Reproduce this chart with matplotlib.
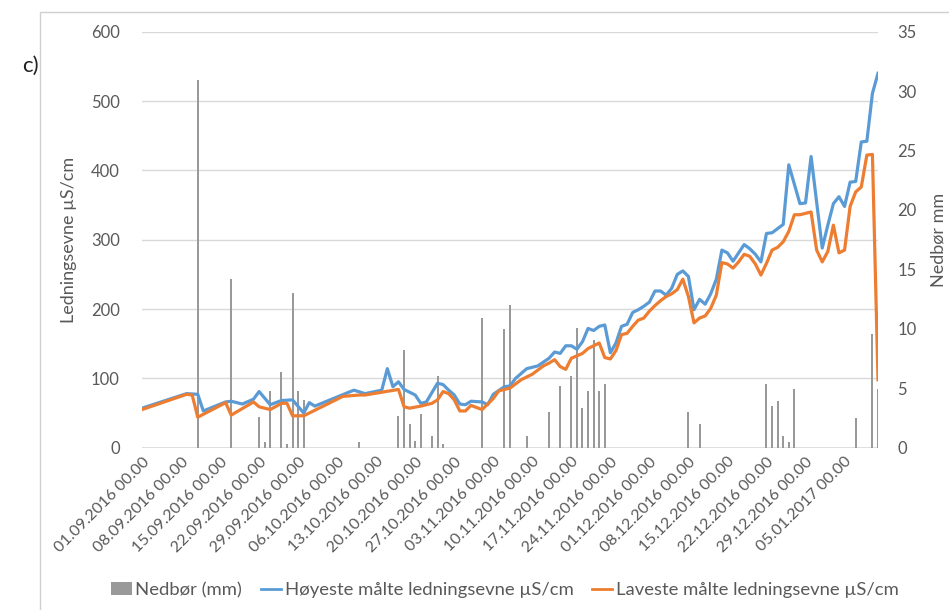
import matplotlib
matplotlib.use("Agg")
import matplotlib.pyplot as plt
from matplotlib.patches import Patch, Rectangle
from matplotlib.lines import Line2D

plt.rcParams['font.family'] = ['Lato', 'DejaVu Sans']

# ---- data (day offset from 01.09.2016) ----
rain_days = [10, 16, 21, 22, 23, 25, 26, 27, 28, 29, 39, 46, 47, 48, 49, 50, 52, 53, 54,
             61, 65, 66, 69, 73, 75, 77, 78, 79, 80, 81, 82, 83, 98, 100,
             112, 113, 114, 115, 116, 117, 128, 131, 132]
rain_mm = [30.9, 14.2, 2.6, 0.5, 4.8, 6.4, 0.3, 13.0, 4.8, 4.0, 0.5, 2.7, 8.2, 2.0, 0.6, 2.8, 1.0, 6.0, 0.3,
           10.9, 10.0, 12.0, 1.0, 3.0, 5.2, 6.0, 10.1, 3.3, 4.8, 9.1, 4.8, 5.4, 3.0, 2.0,
           5.4, 3.5, 3.9, 1.0, 0.5, 4.9, 2.5, 9.6, 4.9]

high_days = [0, 8, 10, 11, 15, 16, 18, 20, 21, 23, 25, 27, 29, 30, 31, 38, 40, 43, 44, 45, 46, 47, 48,
             49, 50, 51, 53, 54, 55, 56, 57, 58, 59, 61, 62, 63, 65, 66, 67, 69, 71, 73, 74, 75, 76,
             77, 78, 79, 80, 81, 82, 83, 84, 85, 86, 87, 88, 89, 90, 91, 92, 93, 94, 95, 96, 97, 98,
             99, 100, 101, 102, 103, 104, 105, 106, 107, 108, 109, 110, 111, 112, 113, 114, 115, 116,
             118, 119, 120, 122, 123, 124, 125, 126, 127, 128, 129, 130, 131, 132]
high_val = [57, 78, 77, 53, 66, 67, 63, 70, 81, 62, 68, 69, 50, 65, 60, 83, 78, 83, 114, 88, 95, 84, 80,
            76, 64, 66, 93, 91, 83, 76, 63, 62, 67, 66, 62, 77, 88, 89, 100, 114, 118, 129, 138, 136, 147,
            147, 142, 153, 172, 169, 175, 177, 137, 151, 175, 178, 195, 199, 204, 210, 226, 226, 220, 230, 250, 255, 247,
            199, 214, 207, 222, 243, 285, 281, 269, 281, 293, 287, 279, 268, 309, 310, 316, 322, 408,
            352, 353, 420, 288, 321, 352, 362, 348, 383, 384, 441, 442, 511, 540]

low_days = [0, 8, 9, 10, 15, 16, 20, 21, 23, 25, 26, 27, 29, 33, 36, 39, 40, 46, 47, 48, 50, 52, 53, 54,
            55, 56, 57, 58, 59, 60, 61, 63, 64, 65, 66, 68, 70, 72, 73, 74, 75, 76, 77, 79, 80, 82, 83,
            84, 85, 86, 87, 88, 89, 90, 91, 92, 93, 94, 95, 96, 97, 98, 99, 100, 101, 102, 103, 104, 105,
            106, 107, 108, 109, 110, 111, 112, 113, 114, 115, 116, 117, 118, 120, 121, 122, 123, 124, 125,
            126, 127, 128, 129, 130, 131, 132]
low_val = [55, 77, 76, 44, 65, 47, 66, 59, 55, 64, 64, 46, 46, 62, 74, 76, 76, 84, 59, 57, 60, 64, 69, 81,
           78, 69, 53, 53, 61, 58, 55, 71, 82, 84, 86, 98, 106, 118, 122, 127, 117, 113, 129, 136, 143, 151, 130,
           128, 140, 163, 165, 175, 184, 187, 197, 205, 212, 218, 222, 228, 243, 218, 180, 187, 190, 201, 220, 267, 265,
           259, 268, 279, 276, 265, 249, 266, 285, 289, 297, 312, 336, 336, 340, 285, 268, 283, 321, 281,
           285, 348, 369, 376, 422, 423, 98]

tick_days = list(range(0, 127, 7))
tick_labels = ["01.09.2016 00.00", "08.09.2016 00.00", "15.09.2016 00.00", "22.09.2016 00.00",
               "29.09.2016 00.00", "06.10.2016 00.00", "13.10.2016 00.00", "20.10.2016 00.00",
               "27.10.2016 00.00", "03.11.2016 00.00", "10.11.2016 00.00", "17.11.2016 00.00",
               "24.11.2016 00.00", "01.12.2016 00.00", "08.12.2016 00.00", "15.12.2016 00.00",
               "22.12.2016 00.00", "29.12.2016 00.00", "05.01.2017 00.00"]

label_high = "Høyeste målte ledningsevne µS/cm"
label_low = "Laveste målte ledningsevne µS/cm"
label_rain = "Nedbør (mm)"

# ---- styling ----
TXT = "#595959"
GRID = "#d9d9d9"
BLUE = "#5b9bd5"
ORANGE = "#ed7d31"
BARC = "#999999"

fig = plt.figure(figsize=(9.49, 6.1), dpi=100)
fig.patch.set_facecolor("white")

# chart-area border (left and top)
fig.add_artist(Rectangle((40/949, -0.1), 1.2, 1 - 12/610 + 0.1, transform=fig.transFigure,
                         fill=False, edgecolor="#d0d0d0", linewidth=1.0))

ax = fig.add_axes([142/949, 1 - 447.7/610, (878 - 142)/949, (447.7 - 31.7)/610])
ax2 = ax.twinx()

# precipitation bars on secondary axis
ax2.bar(rain_days, rain_mm, width=0.36, color=BARC, zorder=1)
ax2.set_ylim(0, 35)
ax2.set_yticks(range(0, 36, 5))

# lines on primary axis
ax.set_zorder(ax2.get_zorder() + 1)
ax.patch.set_visible(False)
ax.plot(high_days, high_val, color=BLUE, lw=2.3, zorder=3, solid_joinstyle='round')
ax.plot(low_days, low_val, color=ORANGE, lw=2.3, zorder=3, solid_joinstyle='round')
ax.set_ylim(0, 600)
ax.set_yticks(range(0, 601, 100))
ax.set_xlim(0, 132)

# gridlines drawn on bar axis (behind bars)
for v in range(100, 601, 100):
    ax2.axhline(v * 35 / 600, color=GRID, lw=1.0, zorder=0)
ax2.axhline(0, color=GRID, lw=1.2, zorder=0)

for a in (ax, ax2):
    for s in a.spines.values():
        s.set_visible(False)

ax.set_xticks(tick_days)
ax.set_xticklabels(tick_labels, rotation=45, ha='right', va='top', rotation_mode='anchor',
                   fontsize=11.5, color=TXT)
ax.tick_params(axis='x', length=0, pad=5)
ax.tick_params(axis='y', length=0, pad=16, labelsize=12, labelcolor=TXT)
ax2.tick_params(axis='y', length=0, pad=14, labelsize=12, labelcolor=TXT)

ax.set_ylabel("Ledningsevne µS/cm", fontsize=13, color=TXT, labelpad=10)
ax2.set_ylabel("Nedbør mm", fontsize=13, color=TXT, labelpad=10)

fig.text(22/949, 1 - 66/610, "c)", fontsize=16, color="#222222", va='center', ha='left')

handles = [Patch(facecolor=BARC, edgecolor='none'),
           Line2D([], [], color=BLUE, lw=2.0),
           Line2D([], [], color=ORANGE, lw=2.0)]
fig.legend(handles, [label_rain, label_high, label_low], loc='center', ncol=3,
           bbox_to_anchor=(505/949, 1 - 590/610), frameon=False, fontsize=13.3,
           labelcolor=TXT, handlelength=1.1, handletextpad=0.2, columnspacing=1.0)

fig.savefig("out.png", dpi=100, facecolor="white")
